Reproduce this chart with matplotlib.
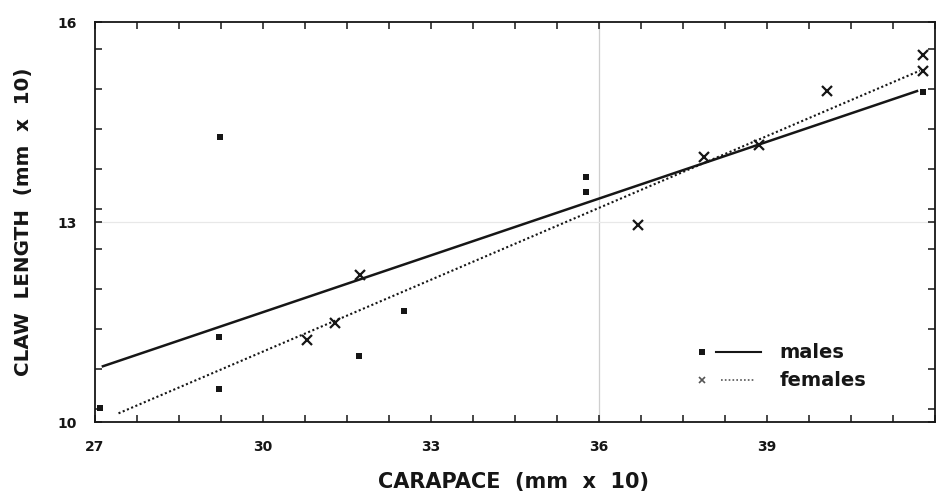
import numpy as np
import matplotlib
matplotlib.use("Agg")
import matplotlib.pyplot as plt
from matplotlib.ticker import MultipleLocator

# carapace (mm x 10) vs claw length (mm x 10)
male_x = [27.09, 29.22, 29.22, 29.23, 31.71, 32.51, 35.77, 35.77, 41.78]
male_y = [10.21, 11.28, 10.49, 14.27, 10.99, 11.67, 13.67, 13.45, 14.95]
female_x = [30.78, 31.29, 31.73, 36.70, 37.87, 38.86, 40.07, 41.78, 41.78]
female_y = [11.23, 11.49, 12.21, 12.96, 13.97, 14.16, 14.97, 15.51, 15.26]

# regression lines (end points)
male_fit_x = [27.12, 41.70]
male_fit_y = [10.83, 14.97]
female_fit_x = [27.42, 41.73]
female_fit_y = [10.13, 15.27]

xticks = [27, 30, 33, 36, 39]
yticks = [10, 13, 16]

ink = "#161616"
plt.rcParams["font.family"] = "DejaVu Sans"
plt.rcParams["font.weight"] = "bold"

fig = plt.figure(figsize=(9.36, 4.97), dpi=100)
ax = fig.add_axes([95 / 936, 75 / 497, 840 / 936, 400 / 497])

# faint lines from the scanned page
ax.axvline(36, color="#cfcfcf", lw=0.9, zorder=0)
ax.axhline(13, color="#e8e8e8", lw=0.9, zorder=0)

ax.plot(male_fit_x, male_fit_y, color=ink, lw=1.8, solid_capstyle="butt")
ax.plot(female_fit_x, female_fit_y, color=ink, lw=1.5, linestyle=(0, (1, 1.2)))
ax.plot(male_x, male_y, "s", color=ink, ms=5, mew=0, clip_on=False)
ax.plot(female_x, female_y, "x", color=ink, ms=7, mew=1.6, clip_on=False)

ax.set_xlim(27, 42)
ax.set_ylim(10, 16)
ax.set_xticks(xticks)
ax.set_yticks(yticks)
ax.xaxis.set_minor_locator(MultipleLocator(0.75))
ax.yaxis.set_minor_locator(MultipleLocator(0.6))
ax.tick_params(which="both", direction="in", top=True, right=True,
               length=5, width=1.1, color=ink)
ax.tick_params(axis="both", labelsize=10, labelcolor=ink, pad=13)
for lab in ax.get_xticklabels() + ax.get_yticklabels():
    lab.set_fontweight("bold")
for sp in ax.spines.values():
    sp.set_linewidth(1.3)
    sp.set_color(ink)

# hand-drawn legend, as in the original
ax.plot([0.7232], [0.175], "s", color=ink, ms=4, mew=0, transform=ax.transAxes, clip_on=False)
ax.plot([0.7387, 0.7924], [0.175, 0.175], color=ink, lw=1.5, transform=ax.transAxes)
ax.text(0.815, 0.175, "males", transform=ax.transAxes, fontsize=14,
        fontweight="bold", color=ink, va="center")
ax.plot([0.7232], [0.105], "x", color="#555555", ms=5, mew=1.2, transform=ax.transAxes, clip_on=False)
ax.plot([0.7447, 0.7850], [0.105, 0.105], color="#555555", lw=1.2,
        linestyle=(0, (1, 1.3)), transform=ax.transAxes)
ax.text(0.815, 0.105, "females", transform=ax.transAxes, fontsize=14,
        fontweight="bold", color=ink, va="center")

fig.text(514 / 936, 1 - 482 / 497, "CARAPACE  (mm  x  10)", ha="center", va="center",
         fontsize=15, fontweight="bold", color=ink)
fig.text(24 / 936, 1 - 222 / 497, "CLAW  LENGTH  (mm  x  10)", ha="center", va="center",
         rotation=90, fontsize=14.3, fontweight="bold", color=ink)

fig.savefig("out.png", dpi=100)
